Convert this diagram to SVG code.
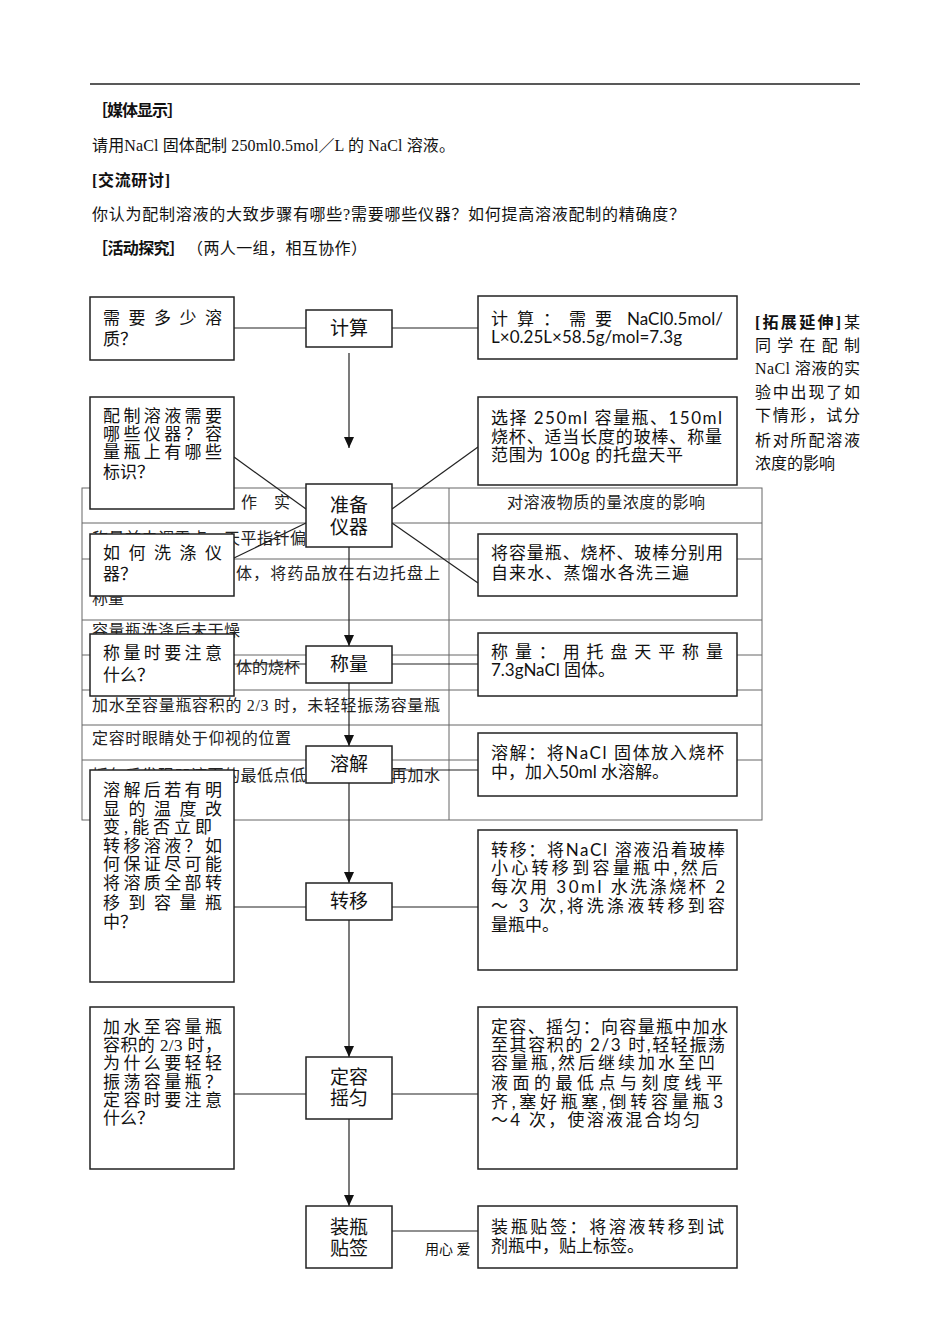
<svg xmlns="http://www.w3.org/2000/svg" width="950" height="1344" viewBox="0 0 950 1344">
<defs>
<style>
.hd{font-family:"Liberation Serif","Noto Sans CJK SC",serif;font-size:16px;fill:#111}
.b{font-weight:bold}
.tb{font-family:"Liberation Serif","Noto Sans CJK SC",serif;font-size:16px;fill:#222}
.lx{font-family:"Liberation Serif","Noto Sans CJK SC",serif;font-size:17px;fill:#111}
.rx{font-family:"Lato","Noto Sans CJK SC",sans-serif;font-size:17px;fill:#111}
.nd{font-family:"Liberation Serif","Noto Sans CJK SC",serif;font-size:19px;fill:#111;text-anchor:middle}
.box{fill:#fff;stroke:#222;stroke-width:1.5}
.tl{stroke:#666;stroke-width:1;fill:none}
.cn{stroke:#222;stroke-width:1.2;fill:none}
.ar{marker-end:url(#ah)}
</style>
<marker id="ah" markerUnits="userSpaceOnUse" markerWidth="11" markerHeight="10" refX="11" refY="5" orient="auto">
<path d="M0,0 L11,5 L0,10 z" fill="#111"/>
</marker>
</defs>
<rect width="950" height="1344" fill="#fff"/>

<g id="header">
<line x1="90" y1="84" x2="860" y2="84" stroke="#222" stroke-width="1.5"/>
<text class="hd b" x="92" y="116" textLength="91">［媒体显示］</text>
<text class="hd" x="92" y="151" textLength="363">请用NaCl 固体配制 250ml0.5mol／L 的 NaCl 溶液。</text>
<text class="hd b" x="92" y="186" textLength="78">[交流研讨]</text>
<text class="hd" x="92" y="220" textLength="593">你认为配制溶液的大致步骤有哪些?需要哪些仪器？如何提高溶液配制的精确度？</text>
<text class="hd b" x="92" y="254" textLength="93">［活动探究］</text>
<text class="hd" x="187" y="254" textLength="180">（两人一组，相互协作）</text>
</g>

<g id="extension">
<text class="hd b" x="755" y="328" textLength="86">[拓展延伸]</text>
<text class="hd" x="844" y="328">某</text>
<text class="hd" x="755" y="351" textLength="105">同学在配制</text>
<text class="hd" x="755" y="374" textLength="105">NaCl 溶液的实</text>
<text class="hd" x="755" y="398" textLength="105">验中出现了如</text>
<text class="hd" x="755" y="421" textLength="105">下情形，试分</text>
<text class="hd" x="755" y="446" textLength="105">析对所配溶液</text>
<text class="hd" x="755" y="469">浓度的影响</text>
</g>

<g id="table">
<rect class="tl" x="82" y="488" width="680" height="332"/>
<line class="tl" x1="449" y1="488" x2="449" y2="820"/>
<line class="tl" x1="82" y1="523" x2="762" y2="523"/>
<line class="tl" x1="82" y1="559" x2="762" y2="559"/>
<line class="tl" x1="82" y1="620" x2="762" y2="620"/>
<line class="tl" x1="82" y1="655" x2="762" y2="655"/>
<line class="tl" x1="82" y1="690" x2="762" y2="690"/>
<line class="tl" x1="82" y1="725" x2="762" y2="725"/>
<line class="tl" x1="82" y1="760" x2="762" y2="760"/>
<text class="tb" x="241" y="508" letter-spacing="17">作实</text>
<text class="tb" x="507" y="508" textLength="198">对溶液物质的量浓度的影响</text>
<text class="tb" x="92" y="544" textLength="214">称量前未调零点，天平指针偏</text>
<text class="tb" x="236" y="579" textLength="204">体，将药品放在右边托盘上</text>
<text class="tb" x="92" y="604">称量</text>
<text class="tb" x="92" y="636" textLength="148">容量瓶洗涤后未干燥</text>
<text class="tb" x="236" y="673" textLength="64">体的烧杯</text>
<text class="tb" x="92" y="711" textLength="348">加水至容量瓶容积的 2/3 时，未轻轻振荡容量瓶</text>
<text class="tb" x="92" y="744" textLength="199">定容时眼睛处于仰视的位置</text>
<text class="tb" x="92" y="781" textLength="214">摇匀后发现凹液面的最低点低</text>
<text class="tb" x="391" y="781" textLength="49">再加水</text>
</g>

<g id="footer">
<text class="hd" x="425" y="1254" style="font-size:14px">用心 爱</text>
</g>

<g id="connectors">
<line class="cn" x1="234" y1="328" x2="306" y2="328"/>
<line class="cn" x1="392" y1="328" x2="478" y2="328"/>
<line class="cn ar" x1="349" y1="353" x2="349" y2="448"/>
<line class="cn" x1="234" y1="457" x2="306" y2="509"/>
<line class="cn" x1="392" y1="509" x2="478" y2="447"/>
<line class="cn" x1="234" y1="558" x2="306" y2="523"/>
<line class="cn" x1="392" y1="523" x2="478" y2="583"/>
<line class="cn ar" x1="349" y1="547" x2="349" y2="646"/>
<line class="cn" x1="234" y1="664" x2="306" y2="664"/>
<line class="cn" x1="392" y1="664" x2="478" y2="664"/>
<line class="cn ar" x1="349" y1="683" x2="349" y2="746"/>
<line class="cn" x1="392" y1="770" x2="478" y2="770"/>
<line class="cn ar" x1="349" y1="783" x2="349" y2="883"/>
<line class="cn" x1="234" y1="907" x2="306" y2="907"/>
<line class="cn" x1="392" y1="907" x2="478" y2="907"/>
<line class="cn ar" x1="349" y1="920" x2="349" y2="1057"/>
<line class="cn" x1="234" y1="1094" x2="306" y2="1094"/>
<line class="cn" x1="392" y1="1094" x2="478" y2="1094"/>
<line class="cn ar" x1="349" y1="1119" x2="349" y2="1206"/>
<line class="cn" x1="392" y1="1231" x2="478" y2="1231"/>
</g>

<g id="step-calc">
<rect class="box" x="306" y="310" width="86" height="37"/>
<text class="nd" x="349" y="335">计算</text>
</g>
<g id="step-prepare">
<rect class="box" x="306" y="484" width="86" height="63"/>
<text class="nd" x="349" y="512">准备</text>
<text class="nd" x="349" y="534">仪器</text>
</g>
<g id="step-weigh">
<rect class="box" x="306" y="646" width="86" height="37"/>
<text class="nd" x="349" y="671">称量</text>
</g>
<g id="step-dissolve">
<rect class="box" x="306" y="746" width="86" height="37"/>
<text class="nd" x="349" y="771">溶解</text>
</g>
<g id="step-transfer">
<rect class="box" x="306" y="883" width="86" height="37"/>
<text class="nd" x="349" y="908">转移</text>
</g>
<g id="step-fix">
<rect class="box" x="306" y="1057" width="86" height="62"/>
<text class="nd" x="349" y="1084">定容</text>
<text class="nd" x="349" y="1105">摇匀</text>
</g>
<g id="step-bottle">
<rect class="box" x="306" y="1206" width="86" height="62"/>
<text class="nd" x="349" y="1234">装瓶</text>
<text class="nd" x="349" y="1255">贴签</text>
</g>

<g id="q-calc">
<rect class="box" x="90" y="297" width="144" height="63"/>
<text class="lx" x="103" y="324" textLength="119">需要多少溶</text>
<text class="lx" x="103" y="345">质？</text>
</g>
<g id="q-prepare">
<rect class="box" x="90" y="397" width="144" height="112"/>
<text class="lx" x="103" y="422" textLength="119">配制溶液需要</text>
<text class="lx" x="103" y="440" textLength="119">哪些仪器？容</text>
<text class="lx" x="103" y="458" textLength="119">量瓶上有哪些</text>
<text class="lx" x="103" y="478">标识？</text>
</g>
<g id="q-wash">
<rect class="box" x="90" y="534" width="144" height="62"/>
<text class="lx" x="103" y="559" textLength="119">如何洗涤仪</text>
<text class="lx" x="103" y="580">器？</text>
</g>
<g id="q-weigh">
<rect class="box" x="90" y="634" width="144" height="62"/>
<text class="lx" x="103" y="659" textLength="119">称量时要注意</text>
<text class="lx" x="103" y="681">什么？</text>
</g>
<g id="q-transfer">
<rect class="box" x="90" y="770" width="144" height="212"/>
<text class="lx" x="103" y="796" textLength="119">溶解后若有明</text>
<text class="lx" x="103" y="815" textLength="119">显的温度改</text>
<text class="lx" x="103" y="833" textLength="109">变,能否立即</text>
<text class="lx" x="103" y="852" textLength="119">转移溶液？如</text>
<text class="lx" x="103" y="870" textLength="119">何保证尽可能</text>
<text class="lx" x="103" y="889" textLength="119">将溶质全部转</text>
<text class="lx" x="103" y="909" textLength="119">移到容量瓶</text>
<text class="lx" x="103" y="928">中？</text>
</g>
<g id="q-fix">
<rect class="box" x="90" y="1007" width="144" height="162"/>
<text class="lx" x="103" y="1033" textLength="119">加水至容量瓶</text>
<text class="lx" x="103" y="1051" textLength="119">容积的 2/3 时，</text>
<text class="lx" x="103" y="1069" textLength="119">为什么要轻轻</text>
<text class="lx" x="103" y="1088" textLength="119">振荡容量瓶？</text>
<text class="lx" x="103" y="1106" textLength="119">定容时要注意</text>
<text class="lx" x="103" y="1124">什么？</text>
</g>

<g id="a-calc">
<rect class="box" x="478" y="296" width="259" height="63"/>
<text class="rx" x="491" y="325" textLength="121">计算：需要</text>
<text class="rx" x="627" y="325" textLength="96">NaCl0.5mol/</text>
<text class="rx" x="491" y="343" textLength="191">L×0.25L×58.5g/mol=7.3g</text>
</g>
<g id="a-prepare">
<rect class="box" x="478" y="397" width="259" height="88"/>
<text class="rx" x="491" y="424" textLength="231">选择 250ml 容量瓶、150ml</text>
<text class="rx" x="491" y="443" textLength="231">烧杯、适当长度的玻棒、称量</text>
<text class="rx" x="491" y="461" textLength="192">范围为 100g 的托盘天平</text>
</g>
<g id="a-wash">
<rect class="box" x="478" y="534" width="259" height="62"/>
<text class="rx" x="491" y="559" textLength="232">将容量瓶、烧杯、玻棒分别用</text>
<text class="rx" x="491" y="579" textLength="198">自来水、蒸馏水各洗三遍</text>
</g>
<g id="a-weigh">
<rect class="box" x="478" y="633" width="259" height="63"/>
<text class="rx" x="491" y="658" textLength="232">称量：用托盘天平称量</text>
<text class="rx" x="491" y="676">7.3gNaCl 固体。</text>
</g>
<g id="a-dissolve">
<rect class="box" x="478" y="733" width="259" height="63"/>
<text class="rx" x="491" y="759" textLength="233">溶解：将NaCl 固体放入烧杯</text>
<text class="rx" x="491" y="778">中，加入50ml 水溶解。</text>
</g>
<g id="a-transfer">
<rect class="box" x="478" y="830" width="259" height="140"/>
<text class="rx" x="491" y="856" textLength="234">转移：将NaCl 溶液沿着玻棒</text>
<text class="rx" x="491" y="874" textLength="227">小心转移到容量瓶中,然后</text>
<text class="rx" x="491" y="893" textLength="234">每次用 30ml 水洗涤烧杯 2</text>
<text class="rx" x="491" y="912" textLength="234">～ 3 次,将洗涤液转移到容</text>
<text class="rx" x="491" y="931">量瓶中。</text>
</g>
<g id="a-fix">
<rect class="box" x="478" y="1007" width="259" height="162"/>
<text class="rx" x="491" y="1033" textLength="237">定容、摇匀：向容量瓶中加水</text>
<text class="rx" x="491" y="1051" textLength="234">至其容积的 2/3 时,轻轻振荡</text>
<text class="rx" x="491" y="1069" textLength="224">容量瓶,然后继续加水至凹</text>
<text class="rx" x="491" y="1089" textLength="232">液面的最低点与刻度线平</text>
<text class="rx" x="491" y="1108" textLength="232">齐,塞好瓶塞,倒转容量瓶3</text>
<text class="rx" x="491" y="1126" textLength="209">～4 次，使溶液混合均匀</text>
</g>
<g id="a-bottle">
<rect class="box" x="478" y="1206" width="259" height="62"/>
<text class="rx" x="491" y="1233" textLength="233">装瓶贴签：将溶液转移到试</text>
<text class="rx" x="491" y="1252">剂瓶中，贴上标签。</text>
</g>
</svg>
